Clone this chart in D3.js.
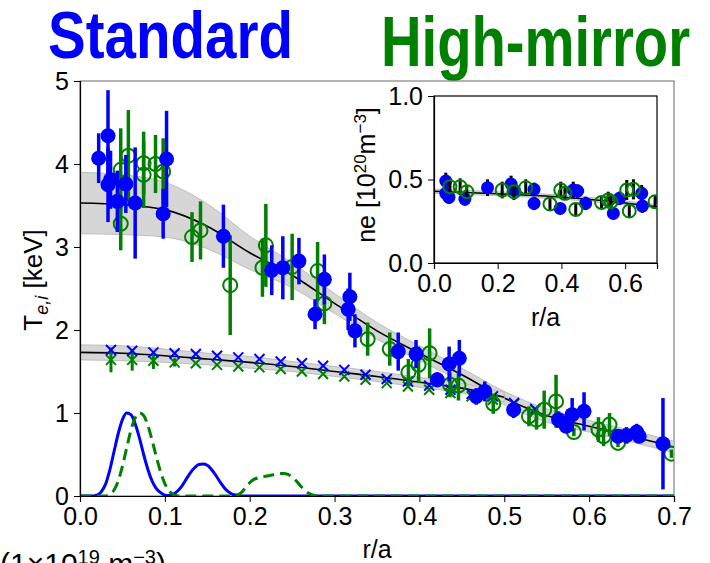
<!DOCTYPE html>
<html>
<head>
<meta charset="utf-8">
<script src="https://cdn.jsdelivr.net/npm/d3@7"></script>
<style>
  html, body { margin: 0; padding: 0; background: #fff; }
  svg { display: block; }
  text { font-family: "Liberation Sans", Arial, sans-serif; }
</style>
</head>
<body>
<svg id="chart" width="710" height="563"></svg>
<script>
// ---- Electron temperature, Standard (filled blue circles) ----
const teStdR = [0.022, 0.033, 0.033, 0.036, 0.044, 0.054, 0.065, 0.098, 0.102, 0.169,
                0.226, 0.239, 0.258, 0.277, 0.288, 0.316, 0.318, 0.324, 0.375, 0.396,
                0.421, 0.435, 0.447, 0.467, 0.477, 0.511, 0.564, 0.573, 0.580, 0.594,
                0.634, 0.644, 0.656, 0.659, 0.687];
const teStdV = [4.07, 4.34, 3.75, 3.81, 3.55, 3.76, 3.53, 3.40, 4.06, 3.13,
                2.72, 2.75, 2.83, 2.19, 2.61, 2.25, 2.40, 1.99, 1.74, 1.71,
                1.40, 1.59, 1.66, 1.20, 1.26, 1.04, 0.92, 0.84, 0.98, 1.02,
                0.72, 0.73, 0.77, 0.72, 0.63];
const teStdE = [0.30, 0.55, 0.45, 0.35, 0.37, 0.35, 0.67, 0.30, 0.58, 0.38,
                0.30, 0.38, 0.28, 0.18, 0.30, 0.25, 0.29, 0.20, 0.23, 0.17,
                0.09, 0.21, 0.22, 0.10, 0.12, 0.10, 0.10, 0.08, 0.20, 0.23,
                0.08, 0.10, 0.10, 0.08, 0.55];

// ---- Electron temperature, High-mirror (open green circles) ----
const teHmR = [0.048, 0.048, 0.057, 0.075, 0.075, 0.089, 0.098, 0.132, 0.142, 0.177,
               0.215, 0.219, 0.250, 0.280, 0.288, 0.339, 0.365, 0.387, 0.399, 0.412,
               0.436, 0.446, 0.487, 0.529, 0.538, 0.547, 0.561, 0.582, 0.611, 0.617,
               0.624, 0.634, 0.697];
const teHmV = [3.93, 3.28, 4.10, 4.01, 3.87, 4.00, 3.91, 3.12, 3.20, 2.54,
               2.75, 3.02, 2.76, 2.71, 2.32, 1.89, 1.77, 1.49, 1.58, 1.72,
               1.34, 1.33, 1.11, 0.96, 0.92, 1.04, 1.14, 0.77, 0.80, 0.72,
               0.86, 0.64, 0.51];
const teHmE = [0.50, 0.32, 0.55, 0.38, 0.40, 0.35, 0.40, 0.30, 0.35, 0.60,
               0.35, 0.50, 0.40, 0.35, 0.25, 0.20, 0.20, 0.16, 0.22, 0.30,
               0.15, 0.18, 0.12, 0.12, 0.12, 0.23, 0.32, 0.05, 0.15, 0.12,
               0.14, 0.05, 0.05];

// ---- Ion temperature (x markers) ----
const tiR = [0.0365, 0.0615, 0.0865, 0.1115, 0.1365, 0.1615, 0.1865, 0.2115, 0.2365, 0.2615,
             0.2865, 0.3115, 0.3365, 0.3615, 0.3865, 0.4115, 0.4365, 0.4615, 0.4865, 0.5115,
             0.5365];
const tiStdV = [1.76, 1.75, 1.73, 1.72, 1.71, 1.69, 1.67, 1.65, 1.62, 1.60,
                1.57, 1.52, 1.46, 1.41, 1.38, 1.33, 1.28, 1.23, 1.20, 1.12,
                1.05];
const tiHmV = [1.64, 1.64, 1.63, 1.61, 1.60, 1.58, 1.56, 1.55, 1.53, 1.50,
               1.47, 1.44, 1.40, 1.36, 1.32, 1.28, 1.24, 1.20, 1.16, 1.11,
               1.04];
const tiHmE = [0.15, 0.13, 0.10, 0.05, 0, 0, 0, 0, 0, 0,
               0, 0, 0, 0, 0, 0, 0, 0, 0, 0, 0];

// ---- Profile fits with uncertainty bands ----
const teFitR = [0, 0.05, 0.10, 0.15, 0.20, 0.25, 0.30, 0.35, 0.40, 0.45, 0.50, 0.55, 0.60, 0.65, 0.70];
const teFitV = [3.53, 3.51, 3.45, 3.25, 2.93, 2.66, 2.32, 1.99, 1.72, 1.46, 1.18, 0.97, 0.84, 0.72, 0.59];
const teFitE = [0.37, 0.36, 0.33, 0.27, 0.20, 0.15, 0.12, 0.10, 0.09, 0.08, 0.08, 0.08, 0.07, 0.07, 0.07];
const tiFitR = [0, 0.05, 0.10, 0.15, 0.20, 0.25, 0.30, 0.35, 0.40, 0.45, 0.50];
const tiFitV = [1.73, 1.72, 1.69, 1.65, 1.61, 1.56, 1.50, 1.44, 1.37, 1.30, 1.19];
const tiFitE = [0.09, 0.09, 0.08, 0.07, 0.07, 0.06, 0.06, 0.06, 0.06, 0.06, 0.06];

// ---- Normalised deposition profiles ----
const depR = [0, 0.015, 0.02, 0.025, 0.03, 0.035, 0.04, 0.045, 0.05, 0.055,
              0.06, 0.065, 0.07, 0.075, 0.08, 0.085, 0.09, 0.095, 0.10, 0.105,
              0.11, 0.115, 0.12, 0.125, 0.13, 0.135, 0.14, 0.145, 0.15, 0.155,
              0.16, 0.165, 0.17, 0.175, 0.18, 0.185, 0.19, 0.195, 0.20, 0.205,
              0.21, 0.215, 0.22, 0.225, 0.23, 0.235, 0.24, 0.245, 0.25, 0.255,
              0.26, 0.265, 0.27, 0.275, 0.28, 0.30, 0.70];
const depStd = [0, 0, 0.01, 0.05, 0.14, 0.31, 0.53, 0.75, 0.92, 1.00,
                0.98, 0.87, 0.70, 0.50, 0.32, 0.18, 0.09, 0.04, 0.01, 0.005,
                0.02, 0.06, 0.12, 0.20, 0.28, 0.34, 0.38, 0.385, 0.37, 0.32,
                0.25, 0.17, 0.10, 0.05, 0.02, 0.01, 0, 0, 0, 0,
                0, 0, 0, 0, 0, 0, 0, 0, 0, 0,
                0, 0, 0, 0, 0, 0, 0];
const depHm = [0, 0, 0, 0, 0, 0.02, 0.07, 0.18, 0.36, 0.58,
               0.79, 0.94, 1.00, 0.97, 0.85, 0.67, 0.47, 0.29, 0.15, 0.06,
               0.02, 0, 0, 0, 0, 0, 0, 0, 0, 0,
               0, 0, 0, 0, 0, 0.01, 0.04, 0.10, 0.16, 0.20,
               0.22, 0.23, 0.24, 0.25, 0.26, 0.27, 0.27, 0.26, 0.23, 0.18,
               0.12, 0.07, 0.03, 0.01, 0, 0, 0];

// ---- Electron density (inset) ----
const neStdR = [0.037, 0.037, 0.047, 0.097, 0.168, 0.242, 0.251, 0.314, 0.314, 0.396,
                0.437, 0.451, 0.476, 0.563, 0.582, 0.652, 0.654];
const neStdV = [0.491, 0.417, 0.393, 0.383, 0.451, 0.473, 0.437, 0.441, 0.357, 0.327,
                0.437, 0.431, 0.357, 0.297, 0.387, 0.417, 0.341];
const neStdE = [0.05, 0.05, 0.04, 0.04, 0.05, 0.05, 0.05, 0.04, 0.04, 0.03,
                0.05, 0.04, 0.04, 0.03, 0.04, 0.05, 0.04];
const neHmR = [0.050, 0.082, 0.103, 0.214, 0.251, 0.288, 0.364, 0.398, 0.411, 0.445,
               0.526, 0.547, 0.556, 0.605, 0.613, 0.626, 0.694];
const neHmV = [0.457, 0.457, 0.427, 0.437, 0.427, 0.451, 0.353, 0.437, 0.417, 0.321,
               0.363, 0.377, 0.367, 0.437, 0.311, 0.441, 0.367];
const neHmE = [0.04, 0.05, 0.04, 0.05, 0.05, 0.05, 0.04, 0.05, 0.04, 0.04,
               0.04, 0.05, 0.04, 0.06, 0.04, 0.06, 0.04];
const neFitR = [0, 0.2, 0.4, 0.55, 0.7];
const neFitV = [0.430, 0.415, 0.395, 0.370, 0.337];
const neFitE = [0.012, 0.012, 0.012, 0.012, 0.012];

const xTicks = [0, 0.1, 0.2, 0.3, 0.4, 0.5, 0.6, 0.7];
const yTicks = [0, 1, 2, 3, 4, 5];
const inXTicks = [0, 0.2, 0.4, 0.6];
const inYTicks = [0, 0.5, 1.0];

// ---------------------------------------------------------------
const BLUE = "#0000ff", GREEN = "#008000";
const svg = d3.select("#chart");

const M = { left: 80, right: 674, top: 81, bottom: 496 };
const x = d3.scaleLinear().domain([0, 0.7]).range([M.left, M.right]);
const y = d3.scaleLinear().domain([0, 5]).range([M.bottom, M.top]);

svg.append("defs").append("clipPath").attr("id", "mainClip")
  .append("rect").attr("x", M.left).attr("y", M.top)
  .attr("width", M.right - M.left).attr("height", M.bottom - M.top);

// Titles
svg.append("text").attr("x", 48).attr("y", 58)
  .attr("font-size", 66).attr("font-weight", "bold").attr("fill", BLUE)
  .attr("textLength", 245).attr("lengthAdjust", "spacingAndGlyphs")
  .style("font-family", '"Liberation Sans Narrow", "Liberation Sans", Arial, sans-serif')
  .text("Standard");
svg.append("text").attr("x", 381).attr("y", 66)
  .attr("font-size", 70).attr("font-weight", "bold").attr("fill", GREEN)
  .attr("textLength", 309).attr("lengthAdjust", "spacingAndGlyphs")
  .style("font-family", '"Liberation Sans Narrow", "Liberation Sans", Arial, sans-serif')
  .text("High-mirror");

// Frame
svg.append("rect").attr("x", M.left).attr("y", M.top)
  .attr("width", M.right - M.left).attr("height", M.bottom - M.top)
  .attr("fill", "none").attr("stroke", "#808080").attr("stroke-width", 1.2);

const plot = svg.append("g").attr("clip-path", "url(#mainClip)");

// Bands and fit curves
function band(g, rs, vs, es, xs, ys) {
  const pts = rs.map((r, i) => ({ r, v: vs[i], e: es[i] }));
  g.append("path").datum(pts)
    .attr("d", d3.area().curve(d3.curveMonotoneX)
      .x(d => xs(d.r)).y0(d => ys(d.v - d.e)).y1(d => ys(d.v + d.e)))
    .attr("fill", "#d6d6d6").attr("stroke", "#bdbdbd").attr("stroke-width", 1);
  g.append("path").datum(pts)
    .attr("d", d3.line().curve(d3.curveMonotoneX).x(d => xs(d.r)).y(d => ys(d.v)))
    .attr("fill", "none").attr("stroke", "#000").attr("stroke-width", 1.6);
}
band(plot, teFitR, teFitV, teFitE, x, y);
band(plot, tiFitR, tiFitV, tiFitE, x, y);

// Deposition profiles
const depLine = vals => d3.line().curve(d3.curveMonotoneX)
  .x((d, i) => x(depR[i])).y(d => y(d))(vals);
plot.append("path").attr("d", depLine(depStd))
  .attr("fill", "none").attr("stroke", BLUE).attr("stroke-width", 3);
plot.append("path").attr("d", depLine(depHm))
  .attr("fill", "none").attr("stroke", GREEN).attr("stroke-width", 3)
  .attr("stroke-dasharray", "11,6");

// Ion temperature markers
function crosses(g, rs, vs, es, color) {
  if (es) {
    g.selectAll(null).data(rs.map((r, i) => [r, vs[i], es[i]]).filter(d => d[2] > 0))
      .enter().append("line")
      .attr("x1", d => x(d[0])).attr("x2", d => x(d[0]))
      .attr("y1", d => y(d[1] - d[2])).attr("y2", d => y(d[1] + d[2]))
      .attr("stroke", color).attr("stroke-width", 3);
  }
  const s = 5;
  g.selectAll(null).data(rs.map((r, i) => [r, vs[i]])).enter().append("path")
    .attr("d", d => {
      const cx = x(d[0]), cy = y(d[1]);
      return `M${cx - s},${cy - s}L${cx + s},${cy + s}M${cx - s},${cy + s}L${cx + s},${cy - s}`;
    })
    .attr("stroke", color).attr("stroke-width", 2).attr("fill", "none");
}
crosses(plot, tiR, tiHmV, tiHmE, GREEN);
crosses(plot, tiR, tiStdV, null, BLUE);

// Electron temperature points with error bars
function errPoints(g, xs, ys, rs, vs, es, color, filled, rad, bw, barColor) {
  const data = rs.map((r, i) => [r, vs[i], es[i]]);
  g.selectAll(null).data(data).enter().append("line")
    .attr("x1", d => xs(d[0])).attr("x2", d => xs(d[0]))
    .attr("y1", d => ys(d[1] - d[2])).attr("y2", d => ys(d[1] + d[2]))
    .attr("stroke", barColor || color).attr("stroke-width", bw);
  g.selectAll(null).data(data).enter().append("circle")
    .attr("cx", d => xs(d[0])).attr("cy", d => ys(d[1])).attr("r", rad)
    .attr("fill", filled ? color : "none")
    .attr("stroke", color).attr("stroke-width", filled ? 0 : 2);
}
errPoints(plot, x, y, teHmR, teHmV, teHmE, GREEN, false, 7, 3.5);
errPoints(plot, x, y, teStdR, teStdV, teStdE, BLUE, true, 7.5, 3.5);

// Main axes
const fontAx = g => g.selectAll("text").attr("font-size", 25).attr("fill", "#000")
  .style("font-family", '"Liberation Sans", Arial, sans-serif');
svg.append("g").attr("transform", `translate(${M.left},0)`)
  .call(d3.axisLeft(y).tickValues(yTicks).tickFormat(d3.format("d")).tickSize(6).tickPadding(5))
  .call(fontAx)
  .call(g => g.select(".domain").attr("stroke-width", 1.2));
svg.append("g").attr("transform", `translate(0,${M.bottom})`)
  .call(d3.axisBottom(x).tickValues(xTicks).tickFormat(d3.format(".1f")).tickSize(6).tickPadding(5))
  .call(fontAx)
  .call(g => g.select(".domain").attr("stroke-width", 1.2));

// Axis labels
const yl = svg.append("text").attr("transform", "translate(42,280) rotate(-90)")
  .attr("text-anchor", "middle").attr("font-size", 26);
yl.append("tspan").text("T");
yl.append("tspan").attr("dy", 6).attr("font-size", 18).attr("font-style", "italic").text("e,i");
yl.append("tspan").attr("dy", -6).text(" [keV]");

svg.append("text").attr("x", (M.left + M.right) / 2).attr("y", 558)
  .attr("text-anchor", "middle").attr("font-size", 25).text("r/a");

// Density units line along the lower edge
const un = svg.append("text").attr("x", 0).attr("y", 574).attr("font-size", 30);
un.append("tspan").text("(1×10");
un.append("tspan").attr("dy", -10).attr("font-size", 20).text("19");
un.append("tspan").attr("dy", 10).text(" m");
un.append("tspan").attr("dy", -10).attr("font-size", 20).text("−3");
un.append("tspan").attr("dy", 10).text(")");

// ---- Inset: electron density ----
const I = { left: 434, right: 657, top: 96, bottom: 263 };
const ix = d3.scaleLinear().domain([0, 0.7]).range([I.left, I.right]);
const iy = d3.scaleLinear().domain([0, 1]).range([I.bottom, I.top]);

svg.select("defs").append("clipPath").attr("id", "insetClip")
  .append("rect").attr("x", I.left).attr("y", I.top)
  .attr("width", I.right - I.left).attr("height", I.bottom - I.top);

svg.append("rect").attr("x", I.left).attr("y", I.top)
  .attr("width", I.right - I.left).attr("height", I.bottom - I.top)
  .attr("fill", "#fff").attr("stroke", "#000").attr("stroke-width", 1.2);

const inset = svg.append("g").attr("clip-path", "url(#insetClip)");
band(inset, neFitR, neFitV, neFitE, ix, iy);
errPoints(inset, ix, iy, neStdR, neStdV, neStdE, BLUE, true, 6.5, 3, "#000");
errPoints(inset, ix, iy, neHmR, neHmV, neHmE, GREEN, false, 6.5, 3, "#000");

svg.append("g").attr("transform", `translate(${I.left},0)`)
  .call(d3.axisLeft(iy).tickValues(inYTicks).tickFormat(d3.format(".1f")).tickSize(6).tickPadding(5))
  .call(fontAx)
  .call(g => g.select(".domain").attr("stroke-width", 1.2));
svg.append("g").attr("transform", `translate(0,${I.bottom})`)
  .call(d3.axisBottom(ix).tickValues(inXTicks).tickFormat(d3.format(".1f")).tickSize(6).tickPadding(5))
  .call(fontAx)
  .call(g => g.select(".domain").attr("stroke-width", 1.2));

const il = svg.append("text").attr("transform", "translate(375,175) rotate(-90)")
  .attr("text-anchor", "middle").attr("font-size", 25);
il.append("tspan").text("ne [10");
il.append("tspan").attr("dy", -9).attr("font-size", 17).text("20");
il.append("tspan").attr("dy", 9).text("m");
il.append("tspan").attr("dy", -9).attr("font-size", 17).text("−3");
il.append("tspan").attr("dy", 9).text("]");

svg.append("text").attr("x", (I.left + I.right) / 2).attr("y", 326)
  .attr("text-anchor", "middle").attr("font-size", 25).text("r/a");
</script>
</body>
</html>
